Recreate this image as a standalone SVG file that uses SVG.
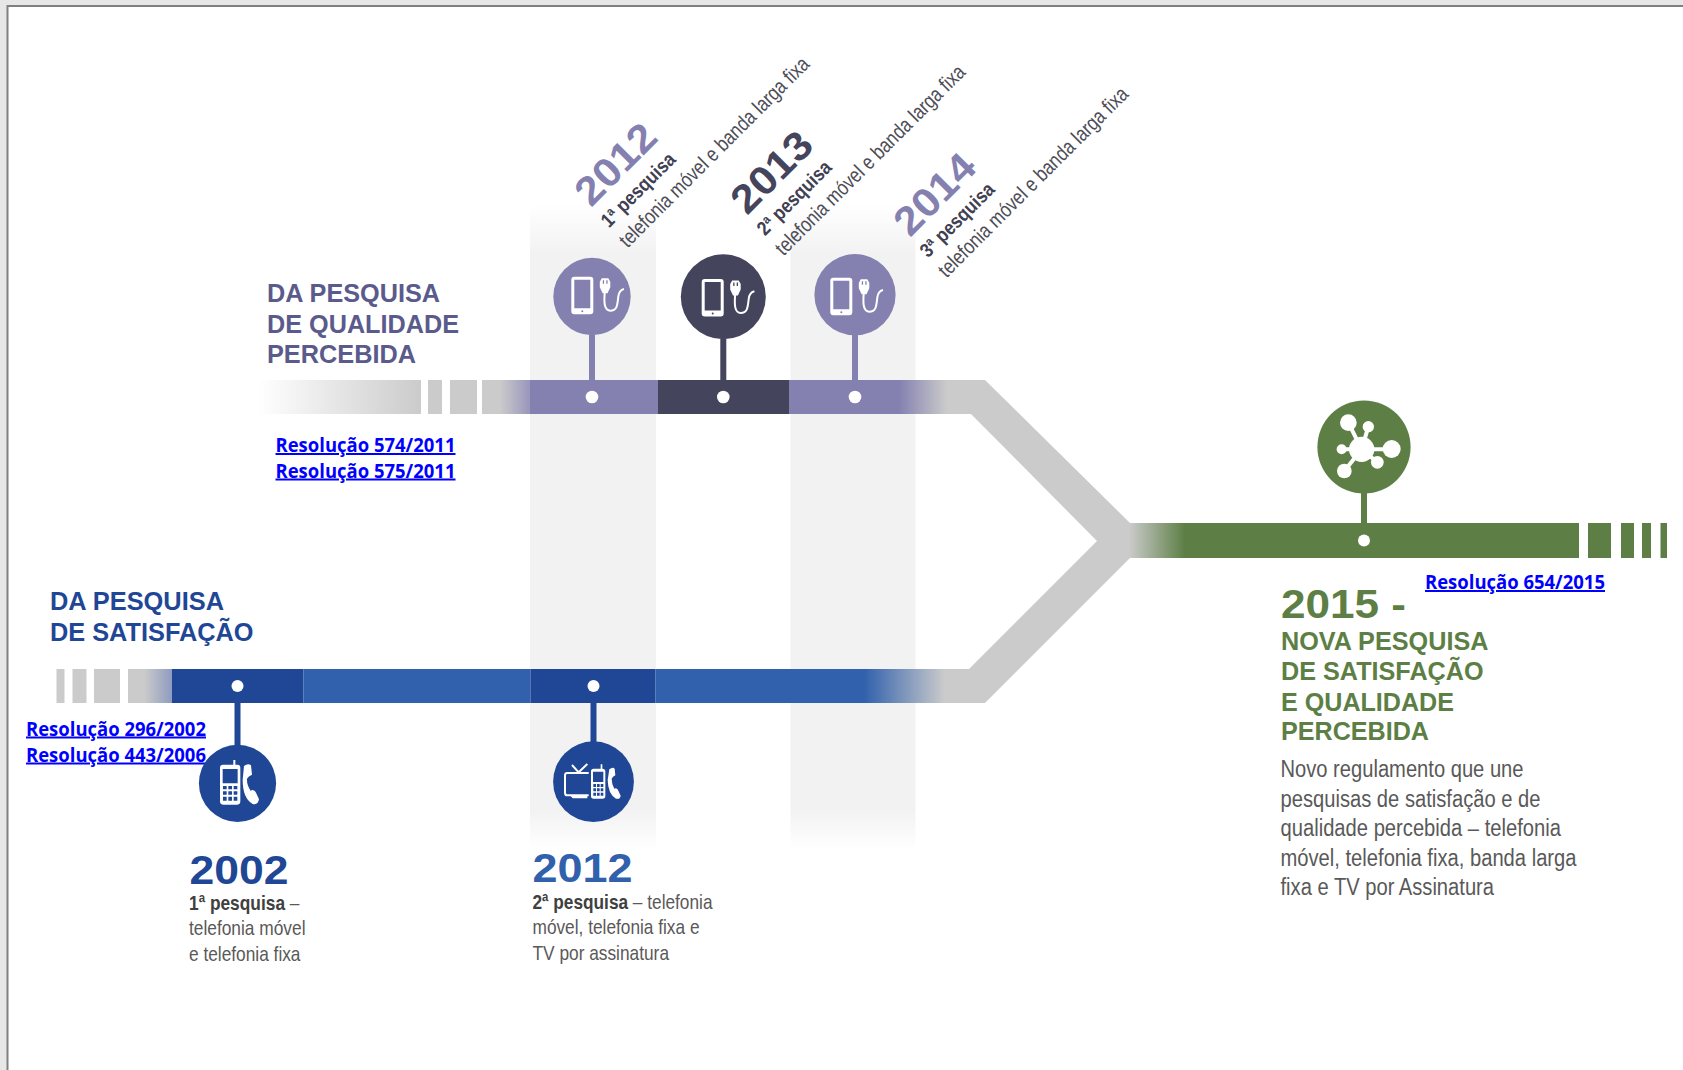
<svg xmlns="http://www.w3.org/2000/svg" xmlns:xlink="http://www.w3.org/1999/xlink" width="1683" height="1070" viewBox="0 0 1683 1070">
<style>
text{font-family:"Liberation Sans",Arial,sans-serif}
.head{font-size:25px;font-weight:700}
.year{font-size:40px;font-weight:700}
.body{font-size:23px;fill:#595959}
.body2{font-size:21px;fill:#595959}
.bold{font-weight:700;fill:#404040}
.res{font-family:"Open Sans",sans-serif;font-size:20px;font-weight:700;fill:#0000ff;text-decoration:underline}
.rot{font-size:21px;fill:#4d4d58}
.rotb{font-size:20px;font-weight:700;fill:#404052}
.stem{stroke-width:6;fill:none}
.w{fill:#fff}
</style>
<defs>
<linearGradient id="colTop" x1="0" y1="0" x2="0" y2="1"><stop offset="0" stop-color="#f2f2f2" stop-opacity="0"/><stop offset="1" stop-color="#f2f2f2"/></linearGradient>
<linearGradient id="colBot" x1="0" y1="0" x2="0" y2="1"><stop offset="0" stop-color="#f2f2f2"/><stop offset="1" stop-color="#f2f2f2" stop-opacity="0"/></linearGradient>
<linearGradient id="fadeWG"><stop offset="0" stop-color="#cbcbcb" stop-opacity="0"/><stop offset="1" stop-color="#cbcbcb"/></linearGradient>
<linearGradient id="gP"><stop offset="0" stop-color="#cbcbcb"/><stop offset="1" stop-color="#9896bb"/></linearGradient>
<linearGradient id="pG"><stop offset="0" stop-color="#8481b0"/><stop offset="1" stop-color="#cbcbcb"/></linearGradient>
<linearGradient id="gB"><stop offset="0" stop-color="#cbcbcb"/><stop offset="1" stop-color="#8f9cc0"/></linearGradient>
<linearGradient id="bG"><stop offset="0" stop-color="#3161ac"/><stop offset="1" stop-color="#cbcbcb"/></linearGradient>
<linearGradient id="gGr"><stop offset="0" stop-color="#cbcbcb"/><stop offset="1" stop-color="#5d7f45"/></linearGradient>
<g id="phonePlug">
<path class="w" fill-rule="evenodd" d="M3 0H19Q22 0 22 3V34.500Q22 37.500 19 37.500H3Q0 37.500 0 34.500V3Q0 0 3 0ZM3 3V31.500H19V3ZM11 33.500A1 1 0 1 0 11 35.500A1 1 0 1 0 11 33.500Z"/>
<path class="w" fill-rule="evenodd" d="M28.500 5L30.500 1.500H37L39 5V10.500L36.200 16.500H31.300L28.500 10.500ZM31.500 3.500V7H32.800V3.500ZM35 3.500V7H36.300V3.500Z"/>
<path d="M33.500 15C32.500 26 33 34 39 34C46 34 46 28 47 20C47.500 15 50 13 52.700 12.300" fill="none" stroke="#fff" stroke-width="2"/>
</g>
</defs>

<rect width="1683" height="1070" fill="#e7e7e7"/>
<rect x="7.500" y="6" width="1680" height="1070" fill="#fff" stroke="#808080" stroke-width="2"/>

<g id="columns">
<rect x="530" y="204" width="126" height="50" fill="url(#colTop)"/>
<rect x="530" y="254" width="126" height="556" fill="#f2f2f2"/>
<rect x="530" y="810" width="126" height="40" fill="url(#colBot)"/>
<rect x="790.500" y="204" width="125" height="50" fill="url(#colTop)"/>
<rect x="790.500" y="254" width="125" height="556" fill="#f2f2f2"/>
<rect x="790.500" y="810" width="125" height="40" fill="url(#colBot)"/>
</g>

<g id="connectors">
<path id="merge" fill="#cbcbcb" d="M940 380H985L1130 523V558L985 703H940V669H969L1097 541L971 414H940Z"/>
<path class="stem" stroke="#8481b0" d="M592 335V380M855 335V380"/>
<path class="stem" stroke="#44445c" d="M723.300 339V380"/>
<path class="stem" stroke="#1f4796" d="M237.500 703V746M593.500 703V742"/>
<path class="stem" stroke="#5d7f45" d="M1364 493V523"/>
</g>

<g id="track-qualidade">
<rect x="258" y="380" width="163" height="34" fill="url(#fadeWG)"/>
<rect x="428" y="380" width="14" height="34" fill="#cbcbcb"/>
<rect x="450" y="380" width="27" height="34" fill="#cbcbcb"/>
<rect x="482" y="380" width="18" height="34" fill="#cbcbcb"/>
<rect x="500" y="380" width="30" height="34" fill="url(#gP)"/>
<rect x="530" y="380" width="128" height="34" fill="#8481b0"/>
<rect x="658" y="380" width="131" height="34" fill="#44445c"/>
<rect x="789" y="380" width="110" height="34" fill="#8481b0"/>
<rect x="899" y="380" width="48" height="34" fill="url(#pG)"/>
</g>

<g id="track-satisfacao">
<rect x="56.500" y="669" width="8" height="34" fill="#cbcbcb"/>
<rect x="72.500" y="669" width="14" height="34" fill="#cbcbcb"/>
<rect x="94" y="669" width="26" height="34" fill="#cbcbcb"/>
<rect x="128" y="669" width="16" height="34" fill="#cbcbcb"/>
<rect x="144" y="669" width="28" height="34" fill="url(#gB)"/>
<rect x="172" y="669" width="131.500" height="34" fill="#1f4796"/>
<rect x="303.500" y="669" width="227" height="34" fill="#3161ac"/>
<rect x="530.500" y="669" width="125" height="34" fill="#1f4796"/>
<rect x="655.500" y="669" width="208.500" height="34" fill="#3161ac"/>
<rect x="864" y="669" width="81" height="34" fill="url(#bG)"/>
</g>

<g id="track-nova">
<rect x="1129" y="523" width="56" height="35" fill="url(#gGr)"/>
<rect x="1185" y="523" width="394" height="35" fill="#5d7f45"/>
<rect x="1588" y="523" width="23" height="35" fill="#5d7f45"/>
<rect x="1621" y="523" width="13" height="35" fill="#5d7f45"/>
<rect x="1642" y="523" width="9" height="35" fill="#5d7f45"/>
<rect x="1660.500" y="523" width="6.500" height="35" fill="#5d7f45"/>
</g>

<g id="node-2012-q">
<circle cx="592" cy="296.500" r="38.700" fill="#8481b0"/>
<use xlink:href="#phonePlug" href="#phonePlug" x="571.300" y="276.700"/>
<circle cx="592" cy="397" r="6.300" class="w"/>
<text class="year" transform="translate(591,208) rotate(-45)" fill="#8481b0" textLength="97" lengthAdjust="spacingAndGlyphs">2012</text>
<text class="rotb" transform="translate(609,228.500) rotate(-45)" textLength="96" lengthAdjust="spacingAndGlyphs">1ª pesquisa</text>
<text class="rot" transform="translate(627.500,248.500) rotate(-45)" textLength="259" lengthAdjust="spacingAndGlyphs">telefonia móvel e banda larga fixa</text>
</g>

<g id="node-2013-q">
<circle cx="723.300" cy="296.700" r="42.500" fill="#44445c"/>
<use xlink:href="#phonePlug" href="#phonePlug" x="701.700" y="279"/>
<circle cx="723.300" cy="397" r="6.300" class="w"/>
<text class="year" transform="translate(747,216) rotate(-45)" fill="#44445c" textLength="97" lengthAdjust="spacingAndGlyphs">2013</text>
<text class="rotb" transform="translate(765,236.500) rotate(-45)" textLength="96" lengthAdjust="spacingAndGlyphs">2ª pesquisa</text>
<text class="rot" transform="translate(783.500,256.500) rotate(-45)" textLength="259" lengthAdjust="spacingAndGlyphs">telefonia móvel e banda larga fixa</text>
</g>

<g id="node-2014-q">
<circle cx="855" cy="294.700" r="40.600" fill="#8481b0"/>
<use xlink:href="#phonePlug" href="#phonePlug" x="830.300" y="277.700"/>
<circle cx="855" cy="397" r="6.300" class="w"/>
<text class="year" transform="translate(910,238) rotate(-45)" fill="#8481b0" textLength="97" lengthAdjust="spacingAndGlyphs">2014</text>
<text class="rotb" transform="translate(928,258.500) rotate(-45)" textLength="96" lengthAdjust="spacingAndGlyphs">3ª pesquisa</text>
<text class="rot" transform="translate(946.500,278.500) rotate(-45)" textLength="259" lengthAdjust="spacingAndGlyphs">telefonia móvel e banda larga fixa</text>
</g>

<g id="title-qualidade" class="head" fill="#5a5b8c">
<text x="267" y="302.300" textLength="173" lengthAdjust="spacingAndGlyphs">DA PESQUISA</text>
<text x="267" y="332.700" textLength="192" lengthAdjust="spacingAndGlyphs">DE QUALIDADE</text>
<text x="267" y="363.300" textLength="149" lengthAdjust="spacingAndGlyphs">PERCEBIDA</text>
</g>
<g id="links-qualidade">
<text class="res" x="275.500" y="452" textLength="180" lengthAdjust="spacingAndGlyphs">Resolução 574/2011</text>
<text class="res" x="275.500" y="477.500" textLength="180" lengthAdjust="spacingAndGlyphs">Resolução 575/2011</text>
</g>

<g id="title-satisfacao" class="head" fill="#1f4796">
<text x="50" y="610" textLength="174" lengthAdjust="spacingAndGlyphs">DA PESQUISA</text>
<text x="50" y="640.700" textLength="203.500" lengthAdjust="spacingAndGlyphs">DE SATISFAÇÃO</text>
</g>
<g id="links-satisfacao">
<text class="res" x="26" y="735.500" textLength="180" lengthAdjust="spacingAndGlyphs">Resolução 296/2002</text>
<text class="res" x="26" y="761.500" textLength="180" lengthAdjust="spacingAndGlyphs">Resolução 443/2006</text>
</g>

<g id="node-2002-s">
<circle cx="237.500" cy="783.300" r="38.600" fill="#1f4796"/>
<circle cx="237.500" cy="686" r="6" class="w"/>
<g transform="translate(180,730) scale(.33333)">
<path class="w" fill-rule="evenodd" d="M160 104V90H166V104H172Q181 104 181 113V214Q181 224 172 224H129Q120 224 120 214V113Q120 104 129 104ZM128 117V160H173V117ZM129 168V178H140V168ZM145 168V178H156V168ZM161 168V178H172V168ZM129 184V194H140V184ZM145 184V194H156V184ZM161 184V194H172V184ZM129 200V212H140V200ZM145 200V212H156V200ZM161 200V212H172V200Z"/>
<path class="w" d="M192 108Q204 98 213 106L216 134Q205 138 201 146Q200 165 212 182Q222 176 228 188L237 208Q234 226 218 222Q188 205 188 150Z"/>
</g>
<text class="year" x="189.500" y="884.300" fill="#1f4796" textLength="99" lengthAdjust="spacingAndGlyphs">2002</text>
<text class="body2" x="189" y="910" textLength="110.500" lengthAdjust="spacingAndGlyphs"><tspan class="bold">1ª pesquisa</tspan> –</text>
<text class="body2" x="189" y="935" textLength="116.500" lengthAdjust="spacingAndGlyphs">telefonia móvel</text>
<text class="body2" x="189" y="960.700" textLength="111.500" lengthAdjust="spacingAndGlyphs">e telefonia fixa</text>
</g>

<g id="node-2012-s">
<circle cx="593.500" cy="781.700" r="40.400" fill="#1f4796"/>
<circle cx="593.500" cy="686" r="6" class="w"/>
<g transform="translate(180,730) scale(.33333)">
<path fill="none" stroke="#fff" stroke-width="6" d="M1176 105L1196 127L1222 102M1226 129H1162Q1155 129 1155 136V188Q1155 196 1162 196H1226"/>
<path class="w" d="M1172 198H1222V205H1178Z"/>
<path class="w" fill-rule="evenodd" d="M1262 116V103H1267V116Q1276 116 1276 124V198Q1276 206 1268 206H1241Q1233 206 1233 198V124Q1233 116 1241 116ZM1239 125V156H1270V125ZM1240 162V171H1248V162ZM1251 162V171H1259V162ZM1262 162V171H1270V162ZM1240 175V184H1248V175ZM1251 175V184H1259V175ZM1262 175V184H1270V175ZM1240 188V197H1248V188ZM1251 188V197H1259V188ZM1262 188V197H1270V188Z"/>
<path class="w" d="M1288 118Q1298 110 1304 116L1306 136Q1298 140 1295 146Q1295 162 1303 176Q1310 172 1314 180L1322 197Q1320 209 1308 206Q1284 192 1283 150Z"/>
</g>
<text class="year" x="532.500" y="882" fill="#3161ac" textLength="100" lengthAdjust="spacingAndGlyphs">2012</text>
<text class="body2" x="532.500" y="909" textLength="180" lengthAdjust="spacingAndGlyphs"><tspan class="bold">2ª pesquisa</tspan> – telefonia</text>
<text class="body2" x="532.500" y="934" textLength="167" lengthAdjust="spacingAndGlyphs">móvel, telefonia fixa e</text>
<text class="body2" x="532.500" y="960" textLength="136.500" lengthAdjust="spacingAndGlyphs">TV por assinatura</text>
</g>

<g id="node-2015">
<circle cx="1364" cy="447" r="46.600" fill="#5d7f45"/>
<circle cx="1364" cy="540.500" r="6" class="w"/>
<g transform="translate(1300,390) scale(.33333)">
<path fill="none" stroke="#fff" stroke-width="12" d="M185 178L145 98M185 178L205 110M185 178H275M185 178H125M185 178L133 243M185 178L232 217"/>
<g class="w">
<circle cx="185" cy="178" r="38"/><circle cx="145" cy="98" r="25"/><circle cx="205" cy="110" r="17"/><circle cx="275" cy="177" r="27"/><circle cx="125" cy="178" r="15"/><circle cx="133" cy="243" r="22"/><circle cx="232" cy="217" r="19"/>
</g>
</g>
<text class="res" x="1425" y="589" textLength="180" lengthAdjust="spacingAndGlyphs">Resolução 654/2015</text>
<text class="year" x="1281" y="618" fill="#5d7f45" textLength="125" lengthAdjust="spacingAndGlyphs">2015 -</text>
<g class="head" fill="#5d7f45">
<text x="1281" y="649.800" textLength="207.500" lengthAdjust="spacingAndGlyphs">NOVA PESQUISA</text>
<text x="1281" y="680.300" textLength="202.600" lengthAdjust="spacingAndGlyphs">DE SATISFAÇÃO</text>
<text x="1281" y="710.800" textLength="173" lengthAdjust="spacingAndGlyphs">E QUALIDADE</text>
<text x="1281" y="740.300" textLength="148" lengthAdjust="spacingAndGlyphs">PERCEBIDA</text>
</g>
<text class="body" x="1280.500" y="777.200" textLength="243" lengthAdjust="spacingAndGlyphs">Novo regulamento que une</text>
<text class="body" x="1280.500" y="806.500" textLength="260" lengthAdjust="spacingAndGlyphs">pesquisas de satisfação e de</text>
<text class="body" x="1280.500" y="836" textLength="280.500" lengthAdjust="spacingAndGlyphs">qualidade percebida – telefonia</text>
<text class="body" x="1280.500" y="865.500" textLength="296" lengthAdjust="spacingAndGlyphs">móvel, telefonia fixa, banda larga</text>
<text class="body" x="1280.500" y="895" textLength="213.500" lengthAdjust="spacingAndGlyphs">fixa e TV por Assinatura</text>
</g>
</svg>
